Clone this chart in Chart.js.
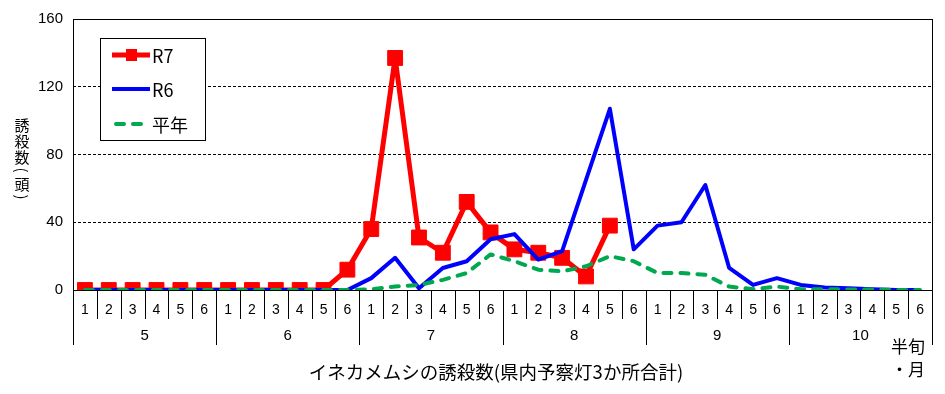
<!DOCTYPE html>
<html lang="ja">
<head>
<meta charset="utf-8">
<title>イネカメムシの誘殺数</title>
<script src="https://cdn.jsdelivr.net/npm/chart.js@4.4.1/dist/chart.umd.min.js"></script>
<style>
  html, body { margin: 0; padding: 0; background: #fff; }
  #wrap { position: relative; width: 945px; height: 394px; }
</style>
</head>
<body>
<div id="wrap"><canvas id="chart"></canvas></div>
<script>
// ---- data ----
const months = ["5", "6", "7", "8", "9", "10"];
const halfPeriods = ["1", "2", "3", "4", "5", "6"];
const yTicks = [0, 40, 80, 120, 160];

// R7 (this year) - stops at Aug 5th half-period
const r7Values = [
  0, 0, 0, 0, 0, 0,
  0, 0, 0, 0, 0, 12,
  36, 137, 31, 22, 52, 34,
  24, 22, 19, 8, 38, null,
  null, null, null, null, null, null,
  null, null, null, null, null, null
];
// R6 (last year)
const r6Values = [
  0, 0, 0, 0, 0, 0,
  0, 0, 0, 0, 0, 0,
  7, 19, 1, 13, 17, 30,
  33, 18, 23, 65, 107, 24,
  38, 40, 62, 13, 3, 7,
  3, 1.5, 1, 0.5, 0, 0
];
// 平年 (normal year)
const normalValues = [
  0, 0, 0, 0, 0, 0,
  0, 0, 0, 0, 0, 0,
  0.5, 2, 3, 6, 10, 21,
  17, 12, 11, 14, 20, 17,
  10, 10, 9, 2, 0.5, 2,
  0.5, 0.5, 0.3, 0.3, 0, 0
];

const seriesNames = ["R7", "R6", "平年"];
const seriesColors = ["#ff0000", "#0000ff", "#00a850"];
const yTitle = "誘殺数(頭)";
const xTitle = "イネカメムシの誘殺数(県内予察灯3か所合計)";
const cornerTitle = ["半旬", "・月"];

// category labels: half-period number for every month
const categories = [];
months.forEach(() => halfPeriods.forEach((h) => categories.push(h)));

const latinFont = "'Liberation Sans', Arial, sans-serif";
const jpFont = "'Noto Sans CJK JP', 'Liberation Sans', sans-serif";
const greenDash = [8, 9];

// ---- extra drawing: frame, two-level axis, titles, legend ----
const decorations = {
  id: "decorations",
  afterDraw(chart) {
    const { ctx, chartArea: a, scales: { x } } = chart;
    const step = (a.right - a.left) / categories.length;
    ctx.save();
    ctx.strokeStyle = "#000";
    ctx.fillStyle = "#000";
    ctx.lineWidth = 1;

    // plot frame
    ctx.strokeRect(a.left + 0.5, a.top + 0.5, a.right - a.left, a.bottom - a.top);

    // separators under the axis
    ctx.beginPath();
    for (let i = 0; i <= categories.length; i++) {
      const px = Math.round(a.left + i * step) + 0.5;
      ctx.moveTo(px, a.bottom);
      ctx.lineTo(px, a.bottom + (i % halfPeriods.length === 0 ? 55 : 29));
    }
    ctx.stroke();

    // month row
    ctx.font = "15px " + latinFont;
    ctx.textAlign = "center";
    ctx.textBaseline = "middle";
    months.forEach((m, g) => {
      const x0 = x.getPixelForValue(g * halfPeriods.length);
      const x1 = x.getPixelForValue(g * halfPeriods.length + halfPeriods.length - 1);
      ctx.fillText(m, (x0 + x1) / 2, a.bottom + 46);
    });

    // x title
    ctx.font = "18.5px " + jpFont;
    ctx.fillText(xTitle, 496, 372);

    // 半旬・月
    ctx.font = "17px " + jpFont;
    ctx.textAlign = "right";
    ctx.fillText(cornerTitle[0], 925, 347);
    ctx.fillText(cornerTitle[1], 925, 370);

    // vertical y title
    ctx.font = "15px " + jpFont;
    ctx.textAlign = "center";
    let ty = 125;
    for (const ch of yTitle) {
      if (ch === "(" || ch === ")") {
        ctx.save();
        ctx.translate(22, ty - 3);
        ctx.rotate(Math.PI / 2);
        ctx.fillText(ch, 0, 0);
        ctx.restore();
        ty += 11;
      } else {
        ctx.fillText(ch, 22, ty);
        ty += 16;
      }
    }

    // legend
    const box = { left: 100, top: 38, width: 105, height: 102 };
    ctx.fillStyle = "#fff";
    ctx.fillRect(box.left, box.top, box.width, box.height);
    ctx.strokeRect(box.left + 0.5, box.top + 0.5, box.width, box.height);
    const rows = [55, 89, 124];
    seriesNames.forEach((name, i) => {
      const y = rows[i];
      ctx.strokeStyle = seriesColors[i];
      ctx.lineWidth = i === 0 ? 5 : 4;
      ctx.lineCap = i === 2 ? "round" : "butt";
      ctx.setLineDash(i === 2 ? greenDash : []);
      ctx.beginPath();
      ctx.moveTo(i === 2 ? 116 : 112, y);
      ctx.lineTo(150, y);
      ctx.stroke();
      ctx.setLineDash([]);
      if (i === 0) {
        ctx.fillStyle = seriesColors[0];
        ctx.fillRect(126, y - 6, 11, 12);
      }
      ctx.fillStyle = "#000";
      ctx.font = "18px " + jpFont;
      ctx.textAlign = "left";
      ctx.fillText(name, 152, y + 1);
    });
    ctx.restore();
  }
};

new Chart(document.getElementById("chart"), {
  type: "line",
  data: {
    labels: categories,
    datasets: [
      {
        label: seriesNames[0],
        data: r7Values,
        borderColor: seriesColors[0],
        backgroundColor: seriesColors[0],
        borderWidth: 5,
        borderJoinStyle: "round",
        pointStyle: "rect",
        pointRadius: 10.5,
        pointBorderWidth: 1,
        pointBackgroundColor: seriesColors[0],
        pointBorderColor: seriesColors[0],
        tension: 0,
        order: 2,
      },
      {
        label: seriesNames[1],
        data: r6Values,
        borderColor: seriesColors[1],
        borderWidth: 4,
        borderJoinStyle: "round",
        pointRadius: 0,
        tension: 0,
        order: 1,
      },
      {
        label: seriesNames[2],
        data: normalValues,
        borderColor: seriesColors[2],
        borderWidth: 4,
        borderDash: greenDash,
        borderCapStyle: "round",
        borderJoinStyle: "round",
        pointRadius: 0,
        tension: 0,
        order: 0,
      },
    ],
  },
  options: {
    responsive: true,
    maintainAspectRatio: false,
    animation: false,
    devicePixelRatio: 1,
    layout: { padding: { top: 19, right: 13, left: 0, bottom: 0 } },
    plugins: {
      legend: { display: false },
      tooltip: { enabled: false },
    },
    scales: {
      x: {
        offset: true,
        grid: { display: false, drawTicks: false },
        border: { display: false },
        ticks: {
          color: "#000",
          font: { family: latinFont, size: 14 },
          padding: 12,
          autoSkip: false,
          maxRotation: 0,
        },
        afterFit: (scale) => { scale.height = 104; },
      },
      y: {
        min: yTicks[0],
        max: yTicks[yTicks.length - 1],
        afterBuildTicks: (scale) => { scale.ticks = yTicks.map((v) => ({ value: v })); },
        grid: {
          drawTicks: false,
          lineWidth: 1,
          color: (c) => (c.tick && (c.tick.value === yTicks[0] || c.tick.value === yTicks[yTicks.length - 1]) ? "rgba(0,0,0,0)" : "#000"),
        },
        border: { display: false, dash: [3, 2] },
        ticks: {
          color: "#000",
          font: { family: latinFont, size: 15 },
          padding: 10,
        },
        afterFit: (scale) => { scale.width = 73; },
      },
    },
  },
  plugins: [decorations],
});
</script>
</body>
</html>
